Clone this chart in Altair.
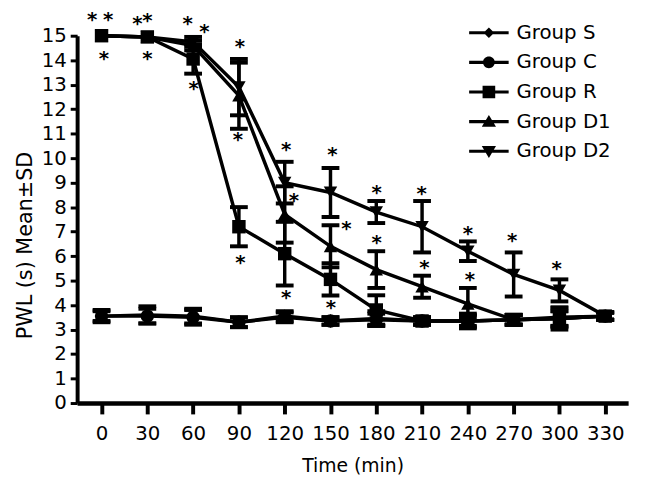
import altair as alt
import pandas as pd

FONT = "DejaVu Sans"

times = [0, 30, 60, 90, 120, 150, 180, 210, 240, 270, 300, 330]
groups = ["Group S", "Group C", "Group R", "Group D1", "Group D2"]

mean_S = [3.55, 3.6, 3.55, 3.3, 3.55, 3.35, 3.45, 3.35, 3.35, 3.4, 3.45, 3.55]
sd_S = [0.25, 0.35, 0.3, 0.2, 0.2, 0.15, 0.3, 0.15, 0.3, 0.2, 0.45, 0.15]
mean_C = [3.55, 3.55, 3.5, 3.3, 3.5, 3.35, 3.4, 3.35, 3.35, 3.4, 3.5, 3.55]
sd_C = [0.2, 0.3, 0.3, 0.2, 0.2, 0.15, 0.25, 0.15, 0.25, 0.2, 0.4, 0.15]
mean_R = [15.0, 14.95, 14.05, 7.2, 6.1, 5.05, 3.8, 3.35, 3.35, 3.4, 3.45, 3.55]
sd_R = [0, 0, 0.6, 0.8, 1.3, 0.66, 0.6, 0.15, 0.2, 0.2, 0.3, 0.15]
mean_D1 = [15.0, 14.95, 14.6, 12.55, 7.7, 6.4, 5.45, 4.75, 4.05, 3.4, 3.45, 3.55]
sd_D1 = [0, 0, 0.2, 1.35, 1.15, 0.86, 0.75, 0.45, 0.65, 0.2, 0.3, 0.15]
mean_D2 = [15.0, 14.95, 14.75, 12.9, 9.0, 8.6, 7.8, 7.2, 6.2, 5.25, 4.6, 3.55]
sd_D2 = [0, 0, 0.2, 1.15, 0.85, 1.0, 0.45, 1.05, 0.4, 0.9, 0.45, 0.15]

star_t = [-6.1, 4.3, 1.5, 23.5, 30.1, 30.1, 56.4, 67.4, 60.3, 90.7, 89.4, 90.9,
          121, 126, 121, 151.3, 160.5, 150.2, 180.3, 180.3, 209.8, 211.6,
          240, 241.4, 269.1, 298.2]
star_v = [15.7, 15.7, 14.11, 15.55, 15.68, 14.14, 15.56, 15.24, 12.9, 14.6, 10.8, 5.78,
          10.4, 8.33, 4.37, 10.19, 7.17, 3.96, 8.67, 6.63, 8.6, 5.58,
          6.98, 5.12, 6.69, 5.56]

y_ticks = list(range(16))

means = [mean_S, mean_C, mean_R, mean_D1, mean_D2]
sds = [sd_S, sd_C, sd_R, sd_D1, sd_D2]
rows = []
for g, ms, ss in zip(groups, means, sds):
    for t, m, s in zip(times, ms, ss):
        rows.append({"group": g, "time": t, "mean": m, "sd": s, "lo": m - s, "hi": m + s})
df = pd.DataFrame(rows)
err = df[df["sd"] > 0]
stars = pd.DataFrame({"time": star_t, "mean": star_v})

xs = alt.Scale(domain=[-16, 345], nice=False, zero=False)
ys = alt.Scale(domain=[0, 15], nice=False, zero=False)

x_axis = alt.Axis(
    values=times, title="Time (min)", grid=False, domainColor="black", domainWidth=4.5,
    tickColor="black", tickWidth=4, tickSize=11, labelFont=FONT, labelFontSize=20,
    labelColor="black", labelPadding=10, labelFlush=False, titleFont=FONT, titleFontSize=19,
    titleFontWeight="normal", titleColor="black", titleBaseline="middle", titleY=63)
y_axis = alt.Axis(
    values=y_ticks, title="PWL (s) Mean±SD", grid=False, domainColor="black", domainWidth=4,
    tickColor="black", tickWidth=3, tickSize=7, labelFont=FONT, labelFontSize=20,
    labelColor="black", labelPadding=4, labelFlush=False, titleFont=FONT, titleFontSize=21,
    titleFontWeight="normal", titleColor="black", titleAngle=270, titleAlign="center",
    titleBaseline="middle", titleX=-52, titleY=212)


def X():
    return alt.X("time:Q", scale=xs, axis=x_axis)


def Y(field):
    return alt.Y(field + ":Q", scale=ys, axis=y_axis)


lines = alt.Chart(df).mark_line(color="black", strokeWidth=3.5).encode(
    x=X(), y=Y("mean"), detail="group:N")
bars = alt.Chart(err).mark_rule(color="black", strokeWidth=3.5).encode(
    x=X(), y=Y("lo"), y2="hi:Q")
cap_lo = alt.Chart(err).mark_tick(orient="horizontal", color="black", size=18, thickness=4, opacity=1).encode(
    x=X(), y=Y("lo"))
cap_hi = alt.Chart(err).mark_tick(orient="horizontal", color="black", size=18, thickness=4, opacity=1).encode(
    x=X(), y=Y("hi"))
points = alt.Chart(df).mark_point(filled=True, color="black", opacity=1, size=185).encode(
    x=X(), y=Y("mean"),
    shape=alt.Shape("group:N", scale=alt.Scale(
        domain=groups, range=["diamond", "circle", "square", "triangle-up", "triangle-down"]),
        legend=None))
star_marks = alt.Chart(stars).mark_text(
    text="*", font=FONT, fontSize=20, fontWeight="bold", color="black",
    baseline="alphabetic", dy=8).encode(x=X(), y=Y("mean"))

bar_l = "M-1,-0.08H-0.1V0.08H-1Z"
bar_r = "M0.1,-0.08H1V0.08H0.1Z"
legend_paths = [
    bar_l + bar_r + "M0,-0.27L0.27,0L0,0.27L-0.27,0Z",
    bar_l + bar_r + "M-0.3,0A0.3,0.3 0 1,1 0.3,0A0.3,0.3 0 1,1 -0.3,0Z",
    bar_l + bar_r + "M-0.32,-0.32H0.32V0.32H-0.32Z",
    bar_l + bar_r + "M0,-0.34L0.36,0.26L-0.36,0.26Z",
    bar_l + bar_r + "M-0.36,-0.26L0.36,-0.26L0,0.34Z",
]
leg_df = pd.DataFrame({"group": groups, "time": [1000] * 5, "mean": [1000] * 5})
legend_layer = alt.Chart(leg_df).mark_point(filled=True, color="black", opacity=1, clip=True).encode(
    x=X(), y=Y("mean"),
    shape=alt.Shape("group:N", scale=alt.Scale(domain=groups, range=legend_paths),
                    legend=alt.Legend(title=None, orient="none", legendX=397, legendY=-23,
                                      symbolSize=1600, symbolFillColor="black",
                                      symbolStrokeWidth=0, symbolOpacity=1,
                                      labelFont=FONT, labelFontSize=20, labelColor="black",
                                      labelOffset=8, rowPadding=0)))

chart = alt.layer(lines, bars, cap_lo, cap_hi, points, star_marks, legend_layer).resolve_scale(
    shape="independent"
).properties(
    width=558, height=372,
    autosize=alt.AutoSizeParams(type="none"),
    padding={"left": 70, "top": 25, "right": 10, "bottom": 85},
).configure_view(stroke=None)

chart.save("out.html", embed_options={"renderer": "svg", "actions": False})
